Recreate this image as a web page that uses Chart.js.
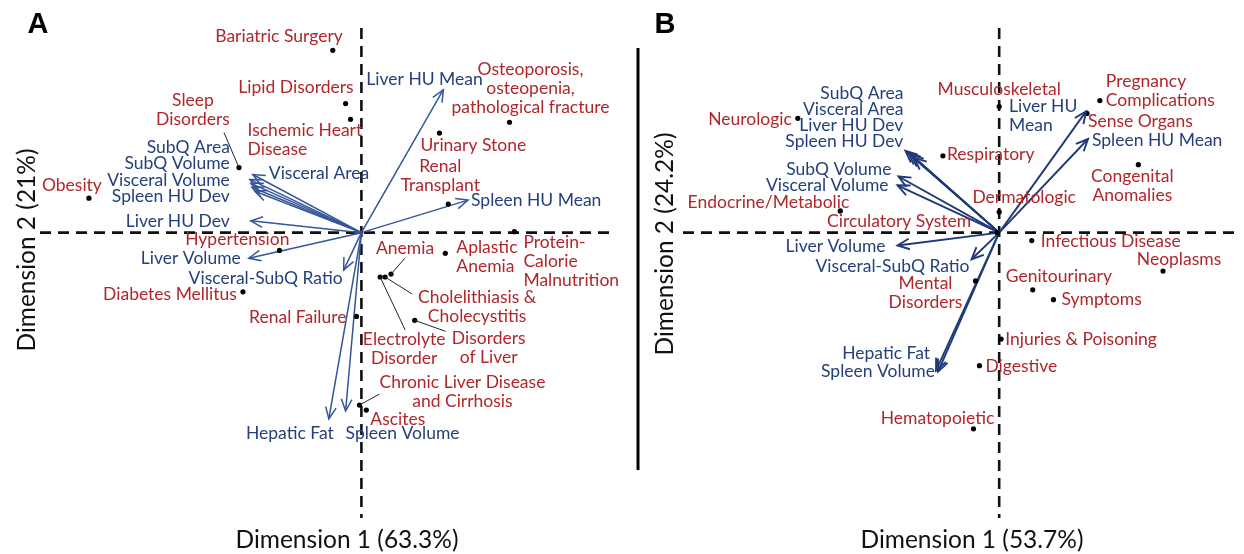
<!DOCTYPE html>
<html><head><meta charset="utf-8">
<script src="https://cdn.jsdelivr.net/npm/chart.js@4.4.0/dist/chart.umd.min.js"></script>
<style>
html,body{margin:0;padding:0;background:#fff;overflow:hidden}
#wrap{position:relative;width:1244px;height:554px}
canvas{position:absolute;top:0}
</style></head>
<body><div id="wrap">
<canvas id="ca" width="630" height="554" style="left:0;width:630px;height:554px"></canvas>
<canvas id="cb" width="614" height="554" style="left:630px;width:614px;height:554px"></canvas>
</div>
<script>
// ---------------- Panel A data ----------------
const aPointNames = ["Bariatric Surgery","Lipid Disorders","Ischemic Heart\nDisease","Sleep\nDisorders","Obesity",
  "Osteoporosis,\nosteopenia,\npathological fracture","Urinary Stone","Renal\nTransplant","Protein-\nCalorie\nMalnutrition",
  "Aplastic\nAnemia","Anemia","Cholelithiasis &\nCholecystitis","Electrolyte\nDisorder","Disorders\nof Liver",
  "Renal Failure","Hypertension","Diabetes Mellitus","Chronic Liver Disease\nand Cirrhosis","Ascites"];
const aPointX = [-0.145,-0.08,-0.055,-0.62,-1.38, 0.75,0.395,0.44,0.775, 0.425,0.15,0.12,0.095,0.27, -0.025,-0.415,-0.60,-0.01,0.025];
const aPointY = [0.925,0.655,0.575,0.33,0.175, 0.56,0.505,0.145,0.005, -0.105,-0.21,-0.225,-0.225,-0.445, -0.425,-0.09,-0.30,-0.875,-0.90];
const aVarNames = ["Liver HU Mean","Spleen HU Mean","Visceral Area","SubQ Area","SubQ Volume","Visceral Volume","Spleen HU Dev",
  "Liver HU Dev","Liver Volume","Visceral-SubQ Ratio","Hepatic Fat","Spleen Volume"];
const aVarX = [0.415,0.54,-0.55,-0.565,-0.56,-0.555,-0.54,-0.56,-0.57,-0.09,-0.165,-0.08];
const aVarY = [0.725,0.165,0.295,0.27,0.25,0.23,0.21,0.06,-0.13,-0.19,-0.945,-0.905];
const aAxisX = "Dimension 1 (63.3%)";
const aAxisY = "Dimension 2 (21%)";

// ---------------- Panel B data ----------------
const bPointNames = ["Musculoskeletal","Pregnancy\nComplications","Sense Organs","Neurologic","Respiratory","Congenital\nAnomalies",
  "Dermatologic","Endocrine/Metabolic","Circulatory System","Mental\nDisorders","Infectious Disease","Neoplasms",
  "Genitourinary","Symptoms","Injuries & Poisoning","Digestive","Hematopoietic"];
const bPointX = [0.0,0.51,0.445,-1.02,-0.285,0.705, 0.0,-0.805,-0.01,-0.12,0.165,0.83, 0.17,0.275,0.01,-0.10,-0.13];
const bPointY = [0.64,0.67,0.605,0.58,0.39,0.345, 0.105,0.11,0.0,-0.245,-0.04,-0.195, -0.29,-0.34,-0.54,-0.675,-0.995];
const bVarNames = ["Liver HU\nMean","Spleen HU Mean","SubQ Area","Visceral Area","Liver HU Dev","Spleen HU Dev","SubQ Volume",
  "Visceral Volume","Liver Volume","Visceral-SubQ Ratio","Hepatic Fat","Spleen Volume"];
const bVarX = [0.44,0.45,-0.475,-0.46,-0.445,-0.43,-0.51,-0.515,-0.515,-0.14,-0.32,-0.31];
const bVarY = [0.615,0.475,0.415,0.405,0.395,0.38,0.285,0.24,-0.065,-0.135,-0.70,-0.705];
const bAxisX = "Dimension 1 (53.7%)";
const bAxisY = "Dimension 2 (24.2%)";

// ---------------- label layout (pixel offsets, alignment, leader lines) ----------------
const aPointLabelLayout = [
  [10,-14,'right'],[8,-16,'right'],[-103,11,'left'],[-46,-67,'center',-15,-35],[-17,-13,'center'],
  [21,-53,'center'],[-19,12,'left'],[-8,-38,'center'],[9,11,'left'],
  [11,-6,'left'],[-15,-26,'left',14,-16],[92,20,'center',27,17],[24,62,'center',25,53],[74,18,'center',31,11],
  [-10,1,'right'],[10,-11,'right'],[-6,3,'right'],[103,-23,'center',20,-11],[4,9,'left']];
const aVarLabelLayout = [
  [-77,-10,'left'],[3,0,'left'],[16,-1,'left'],[-20,-32,'right'],[-21,-20,'right'],[-22,-7,'right'],[-25,5,'right'],
  [-21,1,'right'],[-8,0,'right'],[-1,8,'right'],[5,14,'right'],[0,22,'left']];
const bPointLabelLayout = [
  [0,-17,'center'],[6,-19,'left'],[1,8,'left'],[-6,1,'right'],[4,-1,'left'],[-6,12,'center'],
  [25,-15,'center'],[9,-9,'right'],[-26,-11,'right'],[-50,2,'center'],[9,1,'left'],[16,-12,'center'],
  [-27,-13,'left'],[8,0,'left'],[4,0,'left'],[6,1,'left'],[-36,-10,'center']];
const bVarLabelLayout = [
  [-77,-5,'left'],[4,1,'left'],[-2,-57,'right'],[-5,-43,'right'],[-8,-29,'right'],[-11,-16,'right'],[-7,-7,'right'],
  [-9,0,'right'],[-12,1,'right'],[-2,7,'right'],[-6,-17,'right'],[-3,0,'right']];

const RED = '#B0262B', BLUE = '#243F7A';
const LABEL_FONT = '17.5px Lato, "Open Sans", sans-serif';
const LINE_H = 19;

function drawText(ctx, text, x, y, align, color) {
  ctx.save();
  ctx.font = LABEL_FONT; ctx.fillStyle = color; ctx.textAlign = align; ctx.textBaseline = 'middle';
  text.split('\n').forEach((t, i) => ctx.fillText(t, x, y + i * LINE_H));
  ctx.restore();
}

function buildChart(canvasId, P) {
  const ox = P.originPx[0], oy = P.originPx[1], k = P.pxPerUnit;
  const W = P.size[0], H = P.size[1];
  const datasets = [];
  P.varX.forEach((vx, i) => {
    datasets.push({ type: 'scatter', data: [{x: 0, y: 0}, {x: vx, y: P.varY[i]}], showLine: true,
      borderColor: P.arrowColor, borderWidth: P.arrowWidth, pointRadius: 0, fill: false, order: 2 });
  });
  datasets.push({ type: 'scatter', data: P.pointX.map((x, i) => ({x, y: P.pointY[i]})),
    pointRadius: 2.6, pointBackgroundColor: '#000', pointBorderWidth: 0, showLine: false, order: 1 });

  const plugin = {
    id: 'biplot_' + canvasId,
    beforeDatasetsDraw(chart) {
      const ctx = chart.ctx, xs = chart.scales.x, ys = chart.scales.y;
      const px0 = xs.getPixelForValue(0), py0 = ys.getPixelForValue(0);
      ctx.save();
      ctx.strokeStyle = '#111'; ctx.lineWidth = 2.6; ctx.setLineDash([11, 7]);
      ctx.beginPath(); ctx.moveTo(P.hLine[0], py0); ctx.lineTo(P.hLine[1], py0); ctx.stroke();
      ctx.beginPath(); ctx.moveTo(px0, P.vLine[0]); ctx.lineTo(px0, P.vLine[1]); ctx.stroke();
      ctx.restore();
      if (P.solidLine) {
        ctx.save(); ctx.strokeStyle = '#000'; ctx.lineWidth = 3;
        ctx.beginPath(); ctx.moveTo(P.solidLine[0], P.solidLine[1]); ctx.lineTo(P.solidLine[0], P.solidLine[2]); ctx.stroke();
        ctx.restore();
      }
    },
    afterDatasetsDraw(chart) {
      const ctx = chart.ctx, xs = chart.scales.x, ys = chart.scales.y;
      const px0 = xs.getPixelForValue(0), py0 = ys.getPixelForValue(0);
      // arrow heads
      ctx.save(); ctx.strokeStyle = P.arrowColor; ctx.lineWidth = P.arrowWidth;
      P.varX.forEach((vx, i) => {
        const tx = xs.getPixelForValue(vx), ty = ys.getPixelForValue(P.varY[i]);
        const a = Math.atan2(ty - py0, tx - px0), L = 13, th = 0.42;
        ctx.beginPath();
        ctx.moveTo(tx - L * Math.cos(a - th), ty - L * Math.sin(a - th));
        ctx.lineTo(tx, ty);
        ctx.lineTo(tx - L * Math.cos(a + th), ty - L * Math.sin(a + th));
        ctx.stroke();
      });
      ctx.restore();
      // point labels + leaders
      P.pointNames.forEach((name, i) => {
        const x = xs.getPixelForValue(P.pointX[i]), y = ys.getPixelForValue(P.pointY[i]);
        const lay = P.pointLayout[i];
        if (lay.length > 3) {
          ctx.save(); ctx.strokeStyle = '#222'; ctx.lineWidth = 1;
          ctx.beginPath(); ctx.moveTo(x, y); ctx.lineTo(x + lay[3], y + lay[4]); ctx.stroke(); ctx.restore();
        }
        drawText(ctx, name, x + lay[0], y + lay[1], lay[2], RED);
      });
      P.varNames.forEach((name, i) => {
        const x = xs.getPixelForValue(P.varX[i]), y = ys.getPixelForValue(P.varY[i]);
        const lay = P.varLayout[i];
        drawText(ctx, name, x + lay[0], y + lay[1], lay[2], BLUE);
      });
      // panel letter
      ctx.save(); ctx.font = 'bold 29px "Liberation Sans", Arial, sans-serif'; ctx.fillStyle = '#000';
      ctx.textAlign = 'center'; ctx.textBaseline = 'middle'; ctx.fillText(P.letter, P.letterPos[0], P.letterPos[1]); ctx.restore();
      // axis titles
      ctx.save(); ctx.font = '24.5px Lato, "Open Sans", sans-serif'; ctx.fillStyle = '#111';
      ctx.textAlign = 'center'; ctx.textBaseline = 'middle';
      ctx.fillText(P.axisX, P.axisXPos[0], P.axisXPos[1]);
      ctx.translate(P.axisYPos[0], P.axisYPos[1]); ctx.rotate(-Math.PI / 2); ctx.fillText(P.axisY, 0, 0);
      ctx.restore();
    }
  };

  return new Chart(document.getElementById(canvasId), {
    type: 'scatter',
    data: { datasets },
    options: {
      responsive: false, animation: false, devicePixelRatio: 1,
      layout: { padding: 0 },
      plugins: { legend: { display: false }, tooltip: { enabled: false }, title: { display: false } },
      scales: {
        x: { type: 'linear', display: false, min: -ox / k, max: (W - ox) / k },
        y: { type: 'linear', display: false, min: -(H - oy) / k, max: oy / k }
      }
    },
    plugins: [plugin]
  });
}

buildChart('ca', {
  pointNames: aPointNames, pointX: aPointX, pointY: aPointY,
  varNames: aVarNames, varX: aVarX, varY: aVarY,
  pointLayout: aPointLabelLayout, varLayout: aVarLabelLayout,
  axisX: aAxisX, axisY: aAxisY,
  size: [630, 554], originPx: [362, 232], pxPerUnit: 200,
  hLine: [40, 612], vLine: [28, 518],
  arrowColor: '#34559A', arrowWidth: 1.5,
  letter: 'A', letterPos: [38, 25], axisXPos: [347, 540], axisYPos: [27, 250]
});
buildChart('cb', {
  pointNames: bPointNames, pointX: bPointX, pointY: bPointY,
  varNames: bVarNames, varX: bVarX, varY: bVarY,
  pointLayout: bPointLabelLayout, varLayout: bVarLabelLayout,
  axisX: bAxisX, axisY: bAxisY,
  size: [614, 554], originPx: [370, 232], pxPerUnit: 200,
  hLine: [53, 610], vLine: [28, 518], solidLine: [8, 48, 470],
  arrowColor: '#1E3A78', arrowWidth: 1.9,
  letter: 'B', letterPos: [35, 25], axisXPos: [342, 540], axisYPos: [35, 244]
});
</script>
</body></html>
